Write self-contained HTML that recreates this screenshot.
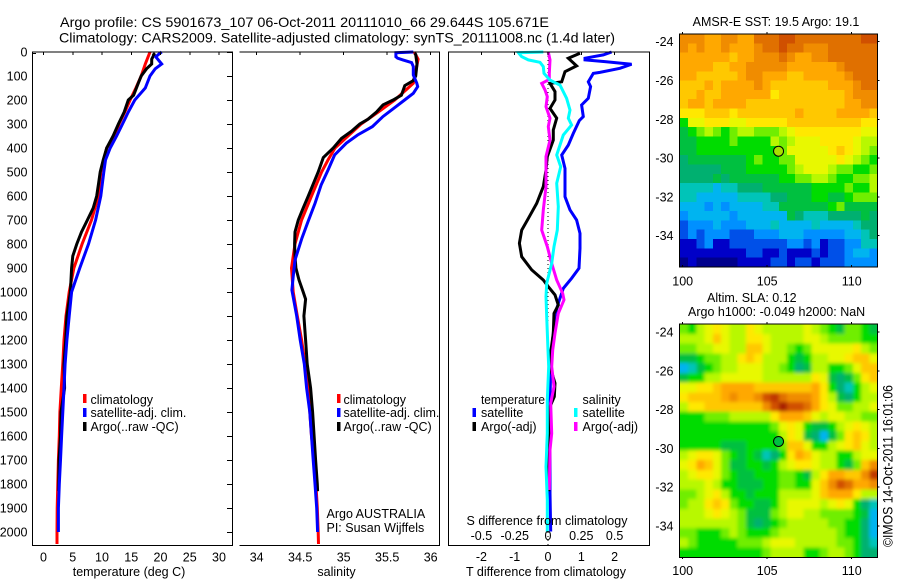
<!DOCTYPE html>
<html lang="en">
<head>
<meta charset="utf-8">
<title>Argo profile CS 5901673_107</title>
<style>
html,body{margin:0;padding:0;background:#fff;}
#figure{display:block;width:900px;height:580px;}
text{font-family:"Liberation Sans",sans-serif;font-size:12.5px;fill:#000;}
.title{font-size:14px;}
</style>
</head>
<body>
<svg id="figure" xmlns="http://www.w3.org/2000/svg" width="900" height="580" viewBox="0 0 900 580">
  <defs>
    <clipPath id="clip-sst"><rect x="680" y="34" width="197.5" height="233"/></clipPath>
    <clipPath id="clip-sla"><rect x="680" y="324.3" width="197.5" height="233"/></clipPath>
    <filter id="smooth" x="-10%" y="-10%" width="120%" height="120%"><feGaussianBlur stdDeviation="1.8"/></filter>
  </defs>

  <text class="title" x="60" y="27" textLength="489" lengthAdjust="spacingAndGlyphs">Argo profile: CS 5901673_107 06-Oct-2011 20111010_66 29.644S 105.671E</text>
  <text class="title" x="59" y="42.5" textLength="556" lengthAdjust="spacingAndGlyphs">Climatology: CARS2009. Satellite-adjusted climatology: synTS_20111008.nc (1.4d later)</text>

  <g id="marks"></g>

  <g>
    <rect x="83" y="394" width="3.5" height="9" fill="#ff0000"/>
    <text x="90.5" y="404">climatology</text>
    <rect x="83" y="408" width="3.5" height="9" fill="#0000ff"/>
    <text x="90.5" y="417">satellite-adj. clim.</text>
    <rect x="83" y="422" width="3.5" height="9" fill="#000"/>
    <text x="90.5" y="431">Argo(..raw -QC)</text>
  </g>
  <g>
    <rect x="337" y="394" width="3.5" height="9" fill="#ff0000"/>
    <text x="343.5" y="404">climatology</text>
    <rect x="337" y="408" width="3.5" height="9" fill="#0000ff"/>
    <text x="343.5" y="417">satellite-adj. clim.</text>
    <rect x="337" y="422" width="3.5" height="9" fill="#000"/>
    <text x="343.5" y="431">Argo(..raw -QC)</text>
  </g>
  <text x="326.5" y="518">Argo AUSTRALIA</text>
  <text x="326.5" y="532">PI: Susan Wijffels</text>

  <g>
    <text x="481" y="404" textLength="64" lengthAdjust="spacingAndGlyphs">temperature</text>
    <rect x="472.5" y="408" width="3.5" height="9" fill="#0000ff"/>
    <text x="481" y="417">satellite</text>
    <rect x="472.5" y="422" width="3.5" height="9" fill="#000"/>
    <text x="481" y="431">Argo(-adj)</text>
    <text x="582.5" y="404">salinity</text>
    <rect x="574" y="408" width="3.5" height="9" fill="#00ffff"/>
    <text x="582.5" y="417">satellite</text>
    <rect x="574" y="422" width="3.5" height="9" fill="#ff00ff"/>
    <text x="582.5" y="431">Argo(-adj)</text>
  </g>

  <text x="129" y="576" text-anchor="middle">temperature (deg C)</text>
  <text x="336.5" y="576" text-anchor="middle">salinity</text>
  <text x="546" y="576" text-anchor="middle">T difference from climatology</text>
  <text x="547" y="525" text-anchor="middle">S difference from climatology</text>

  <text x="776" y="26" text-anchor="middle">AMSR-E SST: 19.5 Argo: 19.1</text>
  <text x="707" y="302">Altim. SLA: 0.12</text>
  <text x="688" y="316">Argo h1000: -0.049 h2000: NaN</text>
  <text style="font-size:13.5px" transform="translate(892.5,547) rotate(-90)" textLength="162" lengthAdjust="spacingAndGlyphs">©IMOS 14-Oct-2011 16:01:06</text>
</svg>

<script>
// ---------- profile data ----------
const climTempDepth = [0,50,100,150,200,250,300,350,400,450,500,600,700,800,900,1000,1100,1200,1300,1400,1500,1600,1700,1900,2000,2050];
const climTempValues = [18.2,17.4,16.7,15.8,14.8,13.9,12.9,12.2,10.8,10.3,9.8,9.4,8.2,6.6,5.2,4.4,3.85,3.5,3.3,3.05,2.8,2.7,2.55,2.35,2.3,2.3];
const satTempDepth = [0,5,20,50,70,100,150,200,250,300,350,400,450,500,600,700,800,900,1000,1100,1200,1300,1400,1500,1600,1700,1800,1900,2000];
const satTempValues = [20.2,19.9,19.2,20.2,19.1,18.2,17.4,15.6,14.5,13.5,12.5,11.4,10.6,10.3,9.8,8.9,7.7,6.2,4.8,4.4,4.0,3.7,3.5,3.3,3.1,2.9,2.7,2.55,2.55];
const argoTempDepth = [5,10,30,50,70,100,130,180,200,250,300,350,400,450,500,550,600,650,700,750,800,850,900,950,1000,1100,1200,1300,1400,1500,1600,1700,1830];
const argoTempValues = [18.7,18.9,18.5,18.5,17.6,16.7,16.2,15.4,14.5,13.8,12.8,11.9,10.8,10.2,9.7,9.4,9.1,8.5,7.5,6.5,5.7,5.0,4.8,4.7,4.6,4.0,3.8,3.5,3.6,3.0,2.9,2.65,2.6];

const climSalDepth = [0,30,100,130,150,200,250,300,350,400,450,500,600,700,800,900,1000,1100,1200,1300,1400,1500,1600,1700,1800,1900,2000,2050];
const climSalValues = [35.81,35.855,35.816,35.8,35.74,35.587,35.396,35.2,35.05,34.9,34.82,34.746,34.63,34.516,34.44,34.4,34.42,34.467,34.516,34.555,34.59,34.61,34.63,34.66,34.68,34.696,34.707,34.71];
const satSalDepth = [0,3,20,26,33,44,61,96,130,144,172,200,228,269,311,346,380,429,492,554,631,707,776,867,936,992,1100,1200,1300,1400,1500,1600,1700,1800,1900,2000];
const satSalValues = [35.8,35.6,35.6,35.62,35.68,35.78,35.8,35.8,35.84,35.85,35.8,35.7,35.6,35.45,35.33,35.16,35.03,34.895,34.82,34.74,34.67,34.59,34.52,34.44,34.42,34.405,34.46,34.5,34.547,34.574,34.61,34.63,34.65,34.67,34.69,34.70];
const argoSalDepth = [5,10,50,100,120,140,180,200,220,250,280,300,330,360,400,440,500,600,650,700,750,800,850,900,950,1000,1030,1100,1200,1300,1400,1500,1600,1700,1800,1830];
const argoSalValues = [35.816,35.828,35.843,35.828,35.797,35.702,35.663,35.568,35.453,35.377,35.281,35.185,35.09,34.975,34.88,34.765,34.707,34.593,34.535,34.478,34.44,34.436,34.44,34.45,34.486,34.535,34.562,34.543,34.562,34.581,34.62,34.642,34.66,34.677,34.696,34.70];

const satTDiffDepth = [0,12,26,33,40,51,68,85,89,124,144,193,221,269,286,339,388,429,485,603,658,700,756,818,901,943,985,1047,1096,1172,1242,1311,1450,1658,1839,1998];
const satTDiffValues = [1.91,1.66,1.11,1.11,1.71,2.51,2.16,1.56,1.36,1.21,1.28,1.21,1.01,1.06,0.94,0.76,0.61,0.41,0.51,0.51,0.66,0.86,0.96,0.96,0.93,0.71,0.46,0.31,0.21,0.16,0.11,0.08,0.06,0.06,0.06,0.08];
const argoTDiffDepth = [5,26,58,82,124,131,165,200,235,276,325,367,436,492,561,631,693,742,797,853,908,950,978,1012,1054,1089,1172,1242,1311,1380,1436,1477,1658,1797,1830];
const argoTDiffValues = [0.96,0.61,0.86,0.51,0.41,0.06,0.21,0.21,0.06,0.26,0.16,0.16,-0.02,-0.06,-0.14,-0.34,-0.59,-0.79,-0.86,-0.79,-0.49,-0.14,0.01,0.21,0.31,0.18,0.16,0.09,0.06,0.21,0.19,0.06,0.02,0.02,0.02];
const satSDiffDepth = [0,3,19,33,43,61,89,117,138,193,242,276,304,346,429,478,547,644,742,811,881,964,1019,1102,1242,1311,1450,1589,1728,1866,2000];
const satSDiffValues = [-0.035,-0.2225,-0.198,-0.148,-0.06,-0.035,-0.03,0.015,0.09,0.14,0.165,0.1525,0.1775,0.115,0.065,0.095,0.065,0.0775,0.07,0.045,0.0275,-0.01,-0.015,-0.01,0,0.005,-0.005,-0.005,-0.015,-0.005,-0.005];
const argoSDiffDepth = [0,33,89,114,131,158,186,228,276,311,367,436,561,658,742,811,881,950,1006,1033,1089,1172,1242,1311,1394,1464,1589,1658,1825];
const argoSDiffValues = [0.0025,0.015,0.01,0.01,-0.0475,-0.0225,-0.005,-0.015,0.015,0.0025,0.015,-0.015,-0.015,-0.035,-0.0475,-0.005,0.0275,0.065,0.11,0.12,0.0775,0.0525,0.035,0.0275,0.045,0.02,0.0275,0.015,0.01];

// ---------- tick labels ----------
const depthTicks = [0,100,200,300,400,500,600,700,800,900,1000,1100,1200,1300,1400,1500,1600,1700,1800,1900,2000];
const tempTicks = [0,5,10,15,20,25,30];
const salTicks = [34,34.5,35,35.5,36];
const tDiffTicks = [-2,-1,0,1,2];
const sDiffTicks = [-0.5,-0.25,0,0.25,0.5];
const lonTicks = [100,105,110];
const latTicks = [-24,-26,-28,-30,-32,-34];
const floatLon = 105.671;
const floatLat = -29.644;

// ---------- map grids: colour-scale level per cell, rows north to south ----------
const sstLevels = [
[15,15,15,14,14,15,15,14,14,16,16,16,17,17,16,16,16,16,16,16,16,16,17,17],
[15,14,15,14,14,15,14,14,14,15,16,16,17,16,16,15,15,15,16,16,16,16,16,16],
[14,14,14,14,14,14,13,14,14,15,15,15,16,15,14,14,15,15,16,16,16,16,16,16],
[14,14,14,14,13,13,14,14,15,15,15,15,15,14,14,14,14,14,14,15,16,16,16,16],
[14,14,13,13,13,13,13,14,15,15,14,14,14,13,13,14,14,14,14,14,15,16,16,16],
[13,13,13,14,13,14,14,14,14,15,14,13,13,13,13,13,13,13,14,14,14,15,16,16],
[13,13,14,13,13,14,14,14,14,14,14,12,13,13,13,13,13,13,13,13,14,15,15,15],
[13,14,14,13,14,14,14,14,13,13,13,13,13,13,13,13,13,13,13,13,14,14,15,15],
[12,12,12,13,13,13,12,13,13,13,13,13,13,13,14,13,13,13,13,14,14,14,14,13],
[8,11,11,12,12,12,11,11,12,12,12,12,12,13,13,13,13,13,13,13,13,13,12,12],
[7,8,9,10,9,8,9,10,10,9,9,9,10,11,12,12,12,12,12,12,12,12,11,11],
[7,7,8,8,8,8,9,8,8,8,8,10,9,10,11,11,11,12,12,12,12,11,10,10],
[7,7,8,8,8,8,8,8,8,8,8,8,9,11,11,11,11,11,12,13,12,11,10,9],
[6,7,7,7,7,7,7,7,8,9,8,8,9,9,11,11,11,11,11,12,11,10,9,8],
[6,6,6,6,6,7,7,7,8,8,8,8,8,9,10,11,11,11,10,9,9,8,8,9],
[6,6,6,6,7,6,7,7,7,7,7,7,8,8,9,9,10,10,9,8,8,9,9,10],
[5,5,5,5,4,5,5,6,6,6,7,7,7,7,7,7,8,8,8,8,9,8,8,10],
[5,5,4,4,4,4,4,5,5,5,5,6,6,7,7,7,8,8,7,7,8,9,9,9],
[4,4,4,3,4,3,4,4,4,4,5,5,7,7,7,7,7,7,8,9,7,7,7,7],
[3,4,4,4,4,4,3,4,4,4,4,4,4,7,6,5,5,5,6,6,6,6,7,6],
[2,3,3,3,4,3,3,3,4,4,4,5,4,4,4,4,5,4,4,4,4,5,6,6],
[2,3,2,3,3,3,2,2,2,3,3,3,4,4,4,3,3,3,3,3,4,4,5,6],
[1,1,2,3,1,1,2,2,2,2,2,2,2,3,3,2,3,1,2,2,3,3,5,5],
[1,1,1,1,1,1,1,1,2,2,1,1,2,1,1,1,2,1,2,2,3,4,4,3],
[0,1,0,0,0,0,0,1,1,1,1,2,2,1,2,2,1,2,2,2,3,3,3,3]
];
const slaLevels = [
[9,8,10,11,12,11,10,10,12,11,10,10,10,10,10,11,10,9,8,7,9,9,8,7],
[10,10,10,11,13,11,10,10,12,12,11,10,10,10,10,11,11,10,9,9,9,9,8,8],
[9,9,10,10,11,11,10,10,13,13,11,10,10,9,8,9,11,11,11,11,11,12,10,9],
[7,7,8,9,9,10,10,12,13,12,10,10,10,8,7,8,10,10,11,11,12,13,13,11],
[4,5,7,8,9,10,10,11,11,11,10,10,9,8,6,7,10,10,8,8,9,11,13,13],
[7,8,8,10,10,11,11,11,11,11,10,10,10,10,10,10,12,11,7,6,7,9,12,13],
[11,11,12,12,13,14,14,14,14,13,13,13,13,13,13,13,14,12,8,6,5,8,10,11],
[12,13,13,13,13,14,15,14,14,15,17,18,16,15,15,15,14,12,10,7,6,8,10,10],
[10,12,12,13,13,13,13,13,13,13,15,17,19,17,17,16,14,12,11,9,9,10,10,11],
[8,8,8,9,9,9,10,10,10,10,10,12,14,14,14,13,11,10,11,11,10,10,9,9],
[8,8,8,8,8,8,8,8,8,8,8,9,11,12,11,8,7,7,8,10,11,12,11,10],
[8,8,8,8,8,8,8,8,8,8,8,8,10,12,11,7,6,4,7,9,12,13,12,10],
[8,8,8,8,8,7,7,7,8,8,8,8,9,13,13,11,8,8,10,11,12,13,11,10],
[10,11,12,12,11,9,8,7,8,7,5,6,8,12,14,13,11,10,10,8,8,10,11,11],
[11,12,14,13,11,9,7,7,8,8,7,8,10,11,12,12,11,10,10,8,7,9,13,15],
[10,11,12,12,11,9,8,7,7,8,8,8,9,9,8,7,10,12,14,14,13,13,15,18],
[10,10,10,11,10,8,8,7,7,7,8,8,9,9,8,8,11,13,15,17,16,14,14,15],
[9,9,10,11,12,10,8,8,7,8,8,8,10,10,10,10,11,13,14,14,14,12,10,10],
[9,10,10,12,13,12,9,8,8,7,7,8,10,11,11,11,11,10,11,12,11,8,6,5],
[10,10,10,11,12,11,10,9,7,7,7,9,10,11,11,10,10,9,9,9,9,8,7,4],
[10,10,10,10,10,10,10,9,7,6,7,8,9,10,10,10,10,10,9,9,8,8,6,4],
[9,9,8,8,8,9,10,9,8,8,8,9,10,10,10,10,10,10,10,9,8,8,6,4],
[10,9,8,8,8,8,8,9,9,9,10,11,11,11,10,10,10,10,10,9,9,8,6,5],
[8,8,8,8,8,8,8,8,8,8,9,10,10,10,10,8,8,9,10,10,9,8,6,6]
];
const colorScale = ['#00008c','#0000c8','#0050e8','#0090ff','#00b4f0','#00c4b8','#00b070','#00c040','#00dc00','#70ee00','#b8f800','#e8f800','#ffe800','#ffc800','#ffa800','#f08c00','#e07000','#d05000','#c03800','#a82000','#901000'];

// ---------- drawing ----------
const NS = 'http://www.w3.org/2000/svg';
const root = document.getElementById('marks');
function make(tag, attrs, parent) {
  const el = document.createElementNS(NS, tag);
  for (const k in attrs) el.setAttribute(k, attrs[k]);
  (parent || root).appendChild(el);
  return el;
}

// axis functions
const yDepth = d => 52 + d * 0.24;
const xTemp = v => 43.5 + v * 5.85;
const xSal = v => 256.7 + (v - 34) * 87;
const xTDiff = v => 548 + v * 33.3;
const xSDiff = v => 548 + v * 133.2;
const xLon = v => 682.7 + (v - 100) * 16.9;
const yLatTop = v => 41.7 + (-24 - v) * 19.4;
const yLatBottom = v => 332 + (-24 - v) * 19.4;

function profile(name, color, depths, values, xFn, width) {
  const pts = depths.map((d, i) => xFn(values[i]).toFixed(1) + ',' + yDepth(d).toFixed(1)).join(' ');
  const line = make('polyline', {points: pts, fill: 'none', stroke: color, 'stroke-width': width || 3, 'stroke-linejoin': 'miter', 'stroke-miterlimit': 3});
  
  
}

function frame(name, sides) {
  const g = make('path', {d: sides, fill: 'none', stroke: '#000', 'stroke-width': 1, 'shape-rendering': 'crispEdges'});
  
  
}

function tick(name, x1, y1, x2, y2) {
  const t = make('line', {x1: x1, y1: y1, x2: x2, y2: y2, stroke: '#000', 'stroke-width': 1, 'shape-rendering': 'crispEdges'});
  
  
}

function label(name, str, x, y, anchor) {
  const t = make('text', {x: x, y: y, 'text-anchor': anchor});
  t.textContent = str;
  
  
}

function heatmap(name, levels, left, top, width, height, clip, smooth) {
  const g = make('g', {'clip-path': 'url(#' + clip + ')'});
  
  
  const inner = make('g', smooth ? {filter: 'url(#smooth)'} : {}, g);
  const rows = levels.length;
  const bleed = smooth ? 12 : 0;
  levels.forEach((row, r) => {
    const cols = row.length;
    row.forEach((lv, c) => {
      const padL = c === 0 ? bleed : 0;
      const padR = c === cols - 1 ? bleed : 0;
      const padT = r === 0 ? bleed : 0;
      const padB = r === rows - 1 ? bleed : 0;
      const cell = make('rect', {
        x: (left + c * width / cols - padL).toFixed(2),
        y: (top + r * height / rows - padT).toFixed(2),
        width: (width / cols + 0.6 + padL + padR).toFixed(2),
        height: (height / rows + 0.6 + padT + padB).toFixed(2),
        fill: colorScale[lv],
        'shape-rendering': 'crispEdges'
      }, inner);
      
      
    });
  });
}

// zero line in the difference panel
const zeroLine = make('line', {x1: xTDiff(0), y1: yDepth(0), x2: xTDiff(0), y2: 545, stroke: '#000', 'stroke-width': 1, 'stroke-dasharray': '1 3'});



// profiles
profile('temperature-climatology-line', '#ff0000', climTempDepth, climTempValues, xTemp);
profile('temperature-argo-line', '#000000', argoTempDepth, argoTempValues, xTemp);
profile('temperature-satellite-line', '#0000ff', satTempDepth, satTempValues, xTemp);
profile('salinity-climatology-line', '#ff0000', climSalDepth, climSalValues, xSal);
profile('salinity-argo-line', '#000000', argoSalDepth, argoSalValues, xSal);
profile('salinity-satellite-line', '#0000ff', satSalDepth, satSalValues, xSal);
profile('t-difference-satellite-line', '#0000ff', satTDiffDepth, satTDiffValues, xTDiff);
profile('t-difference-argo-line', '#000000', argoTDiffDepth, argoTDiffValues, xTDiff);
profile('s-difference-argo-line', '#ff00ff', argoSDiffDepth, argoSDiffValues, xSDiff);
profile('s-difference-satellite-line', '#00ffff', satSDiffDepth, satSDiffValues, xSDiff);

// panel frames
frame('temperature-panel-frame', 'M32.5 52H232.5V545.5H32.5Z');
frame('salinity-panel-frame', 'M239.5 52H439.5V545.5H239.5');
frame('difference-panel-frame', 'M448.5 52H649.5V545.5H448.5Z');

// depth ticks and labels
depthTicks.forEach(d => {
  const y = yDepth(d);
  tick('depth-tick', 227, Math.round(y) + 0.5, 232.5, Math.round(y) + 0.5);
  label('depth-tick-label', String(d), 27.5, y + 4.5, 'end');
});
tick('depth-origin-tick', 32.5, 53.5, 36, 53.5);

// x ticks
tempTicks.forEach(v => {
  tick('temperature-tick', xTemp(v), 52, xTemp(v), 55);
  label('temperature-tick-label', String(v), xTemp(v), 561.5, 'middle');
});
salTicks.forEach(v => {
  tick('salinity-tick', xSal(v), 52, xSal(v), 55);
  label('salinity-tick-label', String(v), xSal(v), 561.5, 'middle');
});
tDiffTicks.forEach(v => {
  tick('t-difference-tick', xTDiff(v), 52, xTDiff(v), 55);
  label('t-difference-tick-label', String(v), xTDiff(v), 561, 'middle');
});
sDiffTicks.forEach(v => {
  label('s-difference-tick-label', String(v), xSDiff(v), 540, 'middle');
});

// maps
heatmap('sst-map', sstLevels, 680, 34, 197.5, 233, 'clip-sst', false);
heatmap('sla-map', slaLevels, 680, 324.3, 197.5, 233, 'clip-sla', true);
frame('sst-map-frame', 'M679.5 34H877.5V267H679.5Z');
frame('sla-map-frame', 'M679.5 324H877.5V557.5H679.5Z');

lonTicks.forEach(v => {
  tick('sst-longitude-tick', xLon(v), 267, xLon(v), 265);
  tick('sst-longitude-top-tick', xLon(v), 34, xLon(v), 32);
  label('sst-longitude-tick-label', String(v), xLon(v), 285.5, 'middle');
  tick('sla-longitude-tick', xLon(v), 557, xLon(v), 559);
  tick('sla-longitude-top-tick', xLon(v), 324, xLon(v), 322);
  label('sla-longitude-tick-label', String(v), xLon(v), 575, 'middle');
});
latTicks.forEach(v => {
  tick('sst-latitude-tick', 877.5, yLatTop(v), 879.5, yLatTop(v));
  label('sst-latitude-tick-label', String(v), 673.5, yLatTop(v) + 4.5, 'end');
  tick('sla-latitude-tick', 877.5, yLatBottom(v), 879.5, yLatBottom(v));
  label('sla-latitude-tick-label', String(v), 673.5, yLatBottom(v) + 4.5, 'end');
});

// float location markers
const sstMarker = make('circle', {cx: xLon(floatLon), cy: yLatTop(floatLat), r: 5, fill: '#a8e000', stroke: '#000', 'stroke-width': 1});


const slaMarker = make('circle', {cx: xLon(floatLon), cy: yLatBottom(floatLat), r: 5, fill: '#00c040', stroke: '#000', 'stroke-width': 1});


</script>
</body>
</html>
